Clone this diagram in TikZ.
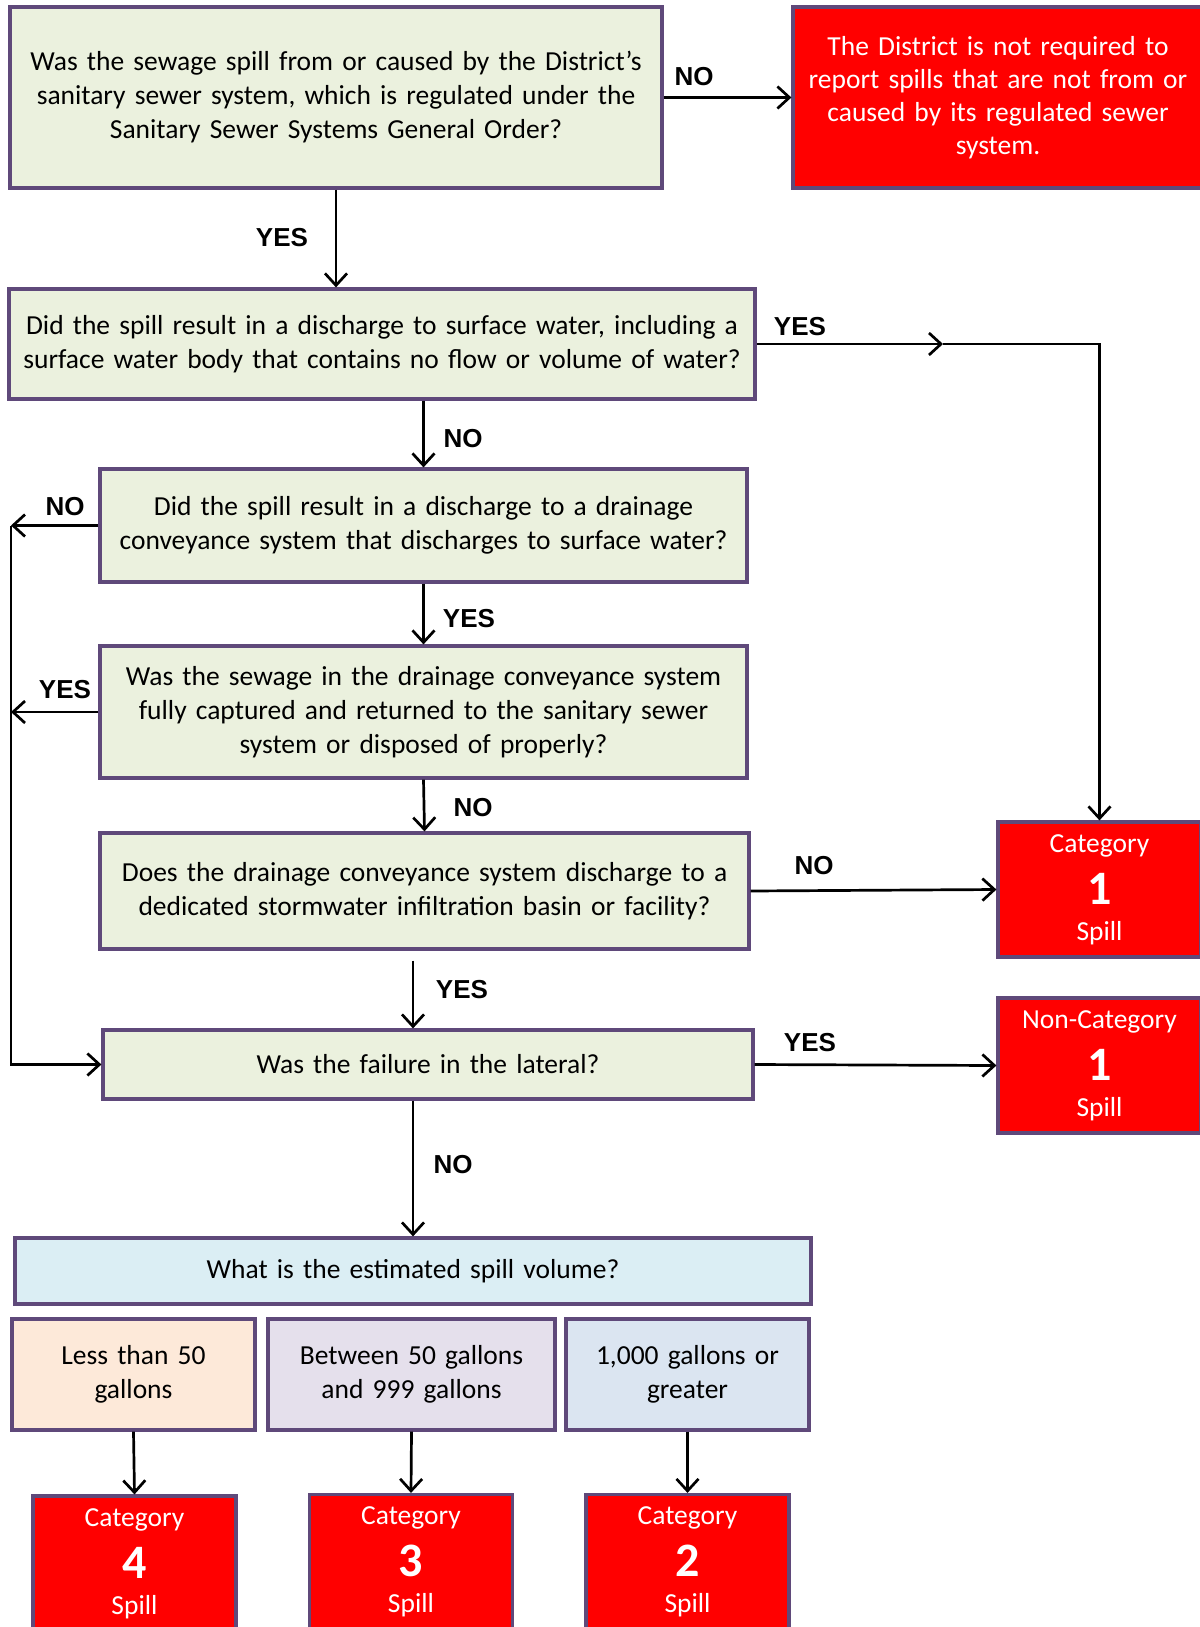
\documentclass[tikz,border=0pt]{standalone}
\usepackage{fontspec}
\setmainfont{Carlito}
\newfontfamily\answerfont{Liberation Sans}
\usetikzlibrary{arrows.meta,calc}
\definecolor{boxline}{HTML}{5F497A}
\definecolor{question}{HTML}{EBF1DE}
\definecolor{volfill}{HTML}{DBEEF4}
\definecolor{lessfill}{HTML}{FDE9D9}
\definecolor{betweenfill}{HTML}{E5E0EC}
\definecolor{greaterfill}{HTML}{DBE5F1}
\colorlet{spillred}{red}
\newcommand{\tightspace}{\spaceskip=4.6pt\relax}
\tikzset{>={Straight Barb[length=12pt,width=22pt]}}
\tikzset{
  qbox/.style = {draw=boxline, line width=3.2pt, fill=question, align=center,
    inner sep=0pt, font=\fontsize{27.5}{34}\selectfont\tightspace},
  redbox/.style = {qbox, fill=spillred, text=white},
  catbox/.style = {redbox, minimum width=203pt, minimum height=135pt,
    font=\fontsize{27.5}{44}\selectfont},
  flow/.style = {->, line width=2.7pt},
  answer/.style = {font=\answerfont\bfseries\fontsize{26}{26}\selectfont}
}
\newcommand{\spilltext}[2]{#1\\[8pt]{\fontsize{48}{44}\selectfont\bfseries #2}\\[-8pt]Spill}

\begin{document}
\begin{tikzpicture}[x=1pt,y=-1pt]
  \useasboundingbox (0,0) rectangle (1199,1627);
  % questions
  \node[qbox, minimum width=652pt, minimum height=181pt, text width=640pt] (origin) at (336,97.5)
    {Was the sewage spill from or caused by the District’s\\sanitary sewer system, which is regulated under the\\Sanitary Sewer Systems General Order?};
  \node[redbox, minimum width=410pt, minimum height=181pt, text width=400pt,
    font=\fontsize{27.5}{33}\selectfont\tightspace] (notreq) at (998,97.5)
    {The District is not required to\\report spills that are not from or\\caused by its regulated sewer\\system.};
  \node[qbox, minimum width=746pt, minimum height=110pt, text width=740pt] (surface) at (382,344)
    {Did the spill result in a discharge to surface water, including a\\surface water body that contains no flow or volume of water?};
  \node[qbox, minimum width=647pt, minimum height=113pt, text width=640pt] (drain) at (423.5,525.5)
    {Did the spill result in a discharge to a drainage\\conveyance system that discharges to surface water?};
  \node[qbox, minimum width=647pt, minimum height=132pt, text width=640pt] (captured) at (423.5,712)
    {Was the sewage in the drainage conveyance system\\fully captured and returned to the sanitary sewer\\system or disposed of properly?};
  \node[qbox, minimum width=649pt, minimum height=116pt, text width=640pt] (basin) at (424.5,891)
    {Does the drainage conveyance system discharge to a\\dedicated stormwater infiltration basin or facility?};
  \node[qbox, minimum width=650pt, minimum height=69pt, text width=640pt] (lateral) at (428,1064.5)
    {Was the failure in the lateral?};
  \node[qbox, fill=volfill, minimum width=796pt, minimum height=66pt, text width=780pt] (volume) at (413,1271)
    {What is the estimated spill volume?};
  % volumes
  \node[qbox, fill=lessfill, minimum width=243pt, minimum height=111pt, text width=236pt] (less) at (133.5,1374.5)
    {Less than 50\\gallons};
  \node[qbox, fill=betweenfill, minimum width=287pt, minimum height=111pt, text width=280pt] (between) at (411.5,1374.5)
    {Between 50 gallons\\and 999 gallons};
  \node[qbox, fill=greaterfill, minimum width=243pt, minimum height=111pt, text width=236pt] (greater) at (687.5,1374.5)
    {1,000 gallons or\\greater};
  % categories
  \node[catbox] (cat1) at (1099.5,889.5) {\spilltext{Category}{1}};
  \node[catbox] (noncat) at (1099.5,1065.5) {\spilltext{Non-Category}{1}};
  \node[catbox] (cat4) at (134.5,1563.5) {\spilltext{Category}{4}};
  \node[catbox] (cat3) at (411,1562) {\spilltext{Category}{3}};
  \node[catbox] (cat2) at (687.5,1562) {\spilltext{Category}{2}};
  % connectors
  \coordinate (rail) at (11,0);
  \coordinate (mid) at (943,344);
  \draw[flow] (origin.east) -- (notreq.west);
  \draw[flow] (origin.south) -- (origin.south |- surface.north);
  \draw[flow] (surface.east) -- (mid);
  \draw[flow] (mid) -- (cat1.north |- surface.east) -- (cat1.north);
  \draw[flow] (surface.south -| drain.north) -- (drain.north);
  \draw[flow] (drain.west) -- (drain.west -| rail);
  \draw[flow] (captured.west) -- (captured.west -| rail);
  \draw[flow] (drain.west -| rail) -- (rail |- lateral.west) -- (lateral.west);
  \draw[flow] (drain.south) -- (captured.north);
  \draw[flow] (captured.south) -- (basin.north);
  \draw[flow] (basin.east) -- (cat1.west);
  \draw[flow, shorten <=10pt] (basin.south -| volume.north) -- (lateral.north -| volume.north);
  \draw[flow] (lateral.east) -- (noncat.west);
  \draw[flow] (lateral.south -| volume.north) -- (volume.north);
  \foreach \from/\to in {less/cat4,between/cat3,greater/cat2}
    \draw[flow] (\from.south) -- (\to.north);
  % answers
  \node[answer] (no1) at (694,77) {NO};
  \node[answer] (yes1) at (282,238) {YES};
  \node[answer] (yes2) at (800,327) {YES};
  \node[answer] (no2) at (463,439) {NO};
  \node[answer] (no3) at (65,507) {NO};
  \node[answer] (yes3) at (469,619) {YES};
  \node[answer] (yes4) at (65,690) {YES};
  \node[answer] (no4) at (473,808) {NO};
  \node[answer] (no5) at (814,866) {NO};
  \node[answer] (yes5) at (462,990) {YES};
  \node[answer] (yes6) at (810,1043) {YES};
  \node[answer] (no6) at (453,1165) {NO};
\end{tikzpicture}
\end{document}
